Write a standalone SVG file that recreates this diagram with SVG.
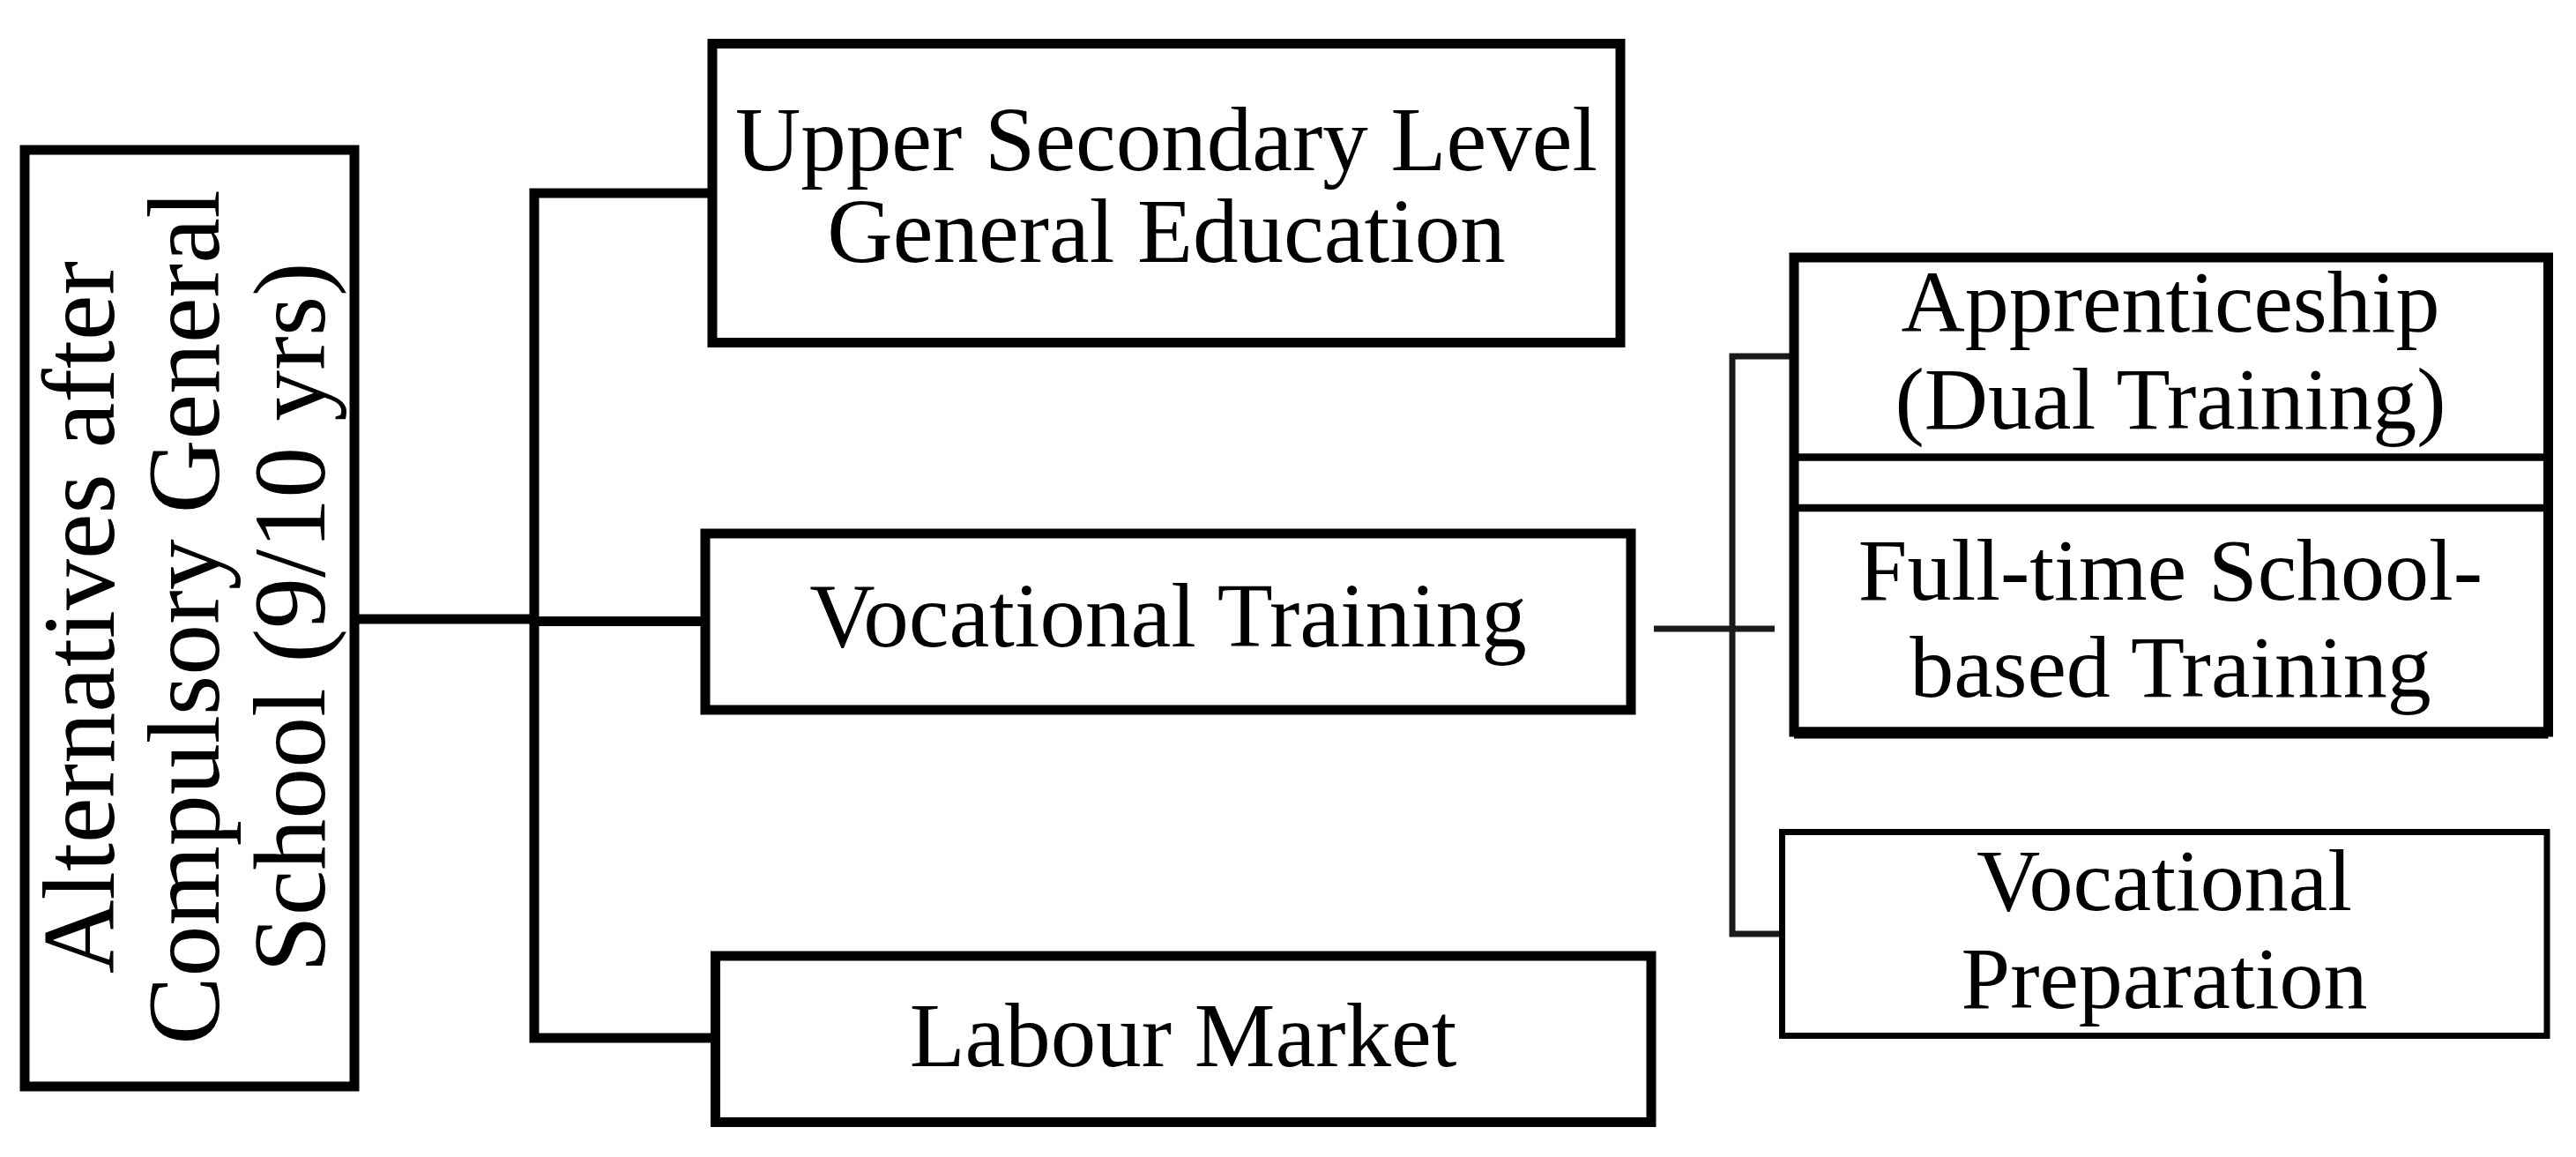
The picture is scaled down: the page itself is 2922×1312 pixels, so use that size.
<svg xmlns="http://www.w3.org/2000/svg" width="2922" height="1312" viewBox="0 0 2922 1312">
<style>
.box{fill:#fff;stroke:#000;stroke-width:11}
.thin{fill:#fff;stroke:#000;stroke-width:7}
.conn{fill:none;stroke:#000;stroke-width:11;stroke-linejoin:miter}
.conn2{fill:none;stroke:#1a1a1a;stroke-width:7;stroke-linejoin:miter}
.t{font-family:"Liberation Serif","Times New Roman",serif;fill:#000;text-anchor:middle}
.big{font-size:103px}
.left{font-size:116px}
.small{font-size:100px}
</style>
<rect width="2922" height="1312" fill="#fff"/>
<g id="connectors">
<path class="conn" d="M402,702 H606"/>
<path class="conn" d="M808,219 H606 V1177 H811"/>
<path class="conn" d="M606,704.5 H800"/>
<path class="conn2" d="M1876,713 H2013"/>
<path class="conn2" d="M2030,404 H1965 V1059 H2018"/>
</g>
<g id="node-alternatives">
<rect class="box" x="28" y="170" width="374" height="1062"/>
<g transform="rotate(-90)">
<text class="t left" x="-700" y="129">Alternatives after</text>
<text class="t left" x="-700" y="248">Compulsory General</text>
<text class="t left" x="-700" y="368">School (9/10 yrs)</text>
</g>
</g>
<g id="node-upper">
<rect class="box" x="808" y="49.5" width="1030" height="339"/>
<text class="t big" x="1323" y="193">Upper Secondary Level</text>
<text class="t big" x="1323" y="297">General Education</text>
</g>
<g id="node-vocational">
<rect class="box" x="800" y="605" width="1050" height="200"/>
<text class="t big" x="1325" y="733">Vocational Training</text>
</g>
<g id="node-labour">
<rect class="box" x="811.5" y="1084" width="1061.5" height="188.5"/>
<text class="t big" x="1342" y="1209">Labour Market</text>
</g>
<g id="node-dual">
<rect class="box" x="2035" y="292" width="855.5" height="538"/>
<line x1="2035" y1="831" x2="2890.5" y2="831" stroke="#000" stroke-width="13"/>
<line x1="2035" y1="518.5" x2="2890.5" y2="518.5" stroke="#000" stroke-width="8.5"/>
<line x1="2035" y1="576" x2="2890.5" y2="576" stroke="#000" stroke-width="8.5"/>
<text class="t small" x="2462" y="376">Apprenticeship</text>
<text class="t small" x="2462" y="486">(Dual Training)</text>
<text class="t small" x="2462" y="680">Full-time School-</text>
<text class="t small" x="2462" y="790">based Training</text>
</g>
<g id="node-preparation">
<rect class="thin" x="2021.5" y="943.5" width="867.5" height="231"/>
<text class="t small" x="2455" y="1032">Vocational</text>
<text class="t small" x="2455" y="1143">Preparation</text>
</g>
</svg>
